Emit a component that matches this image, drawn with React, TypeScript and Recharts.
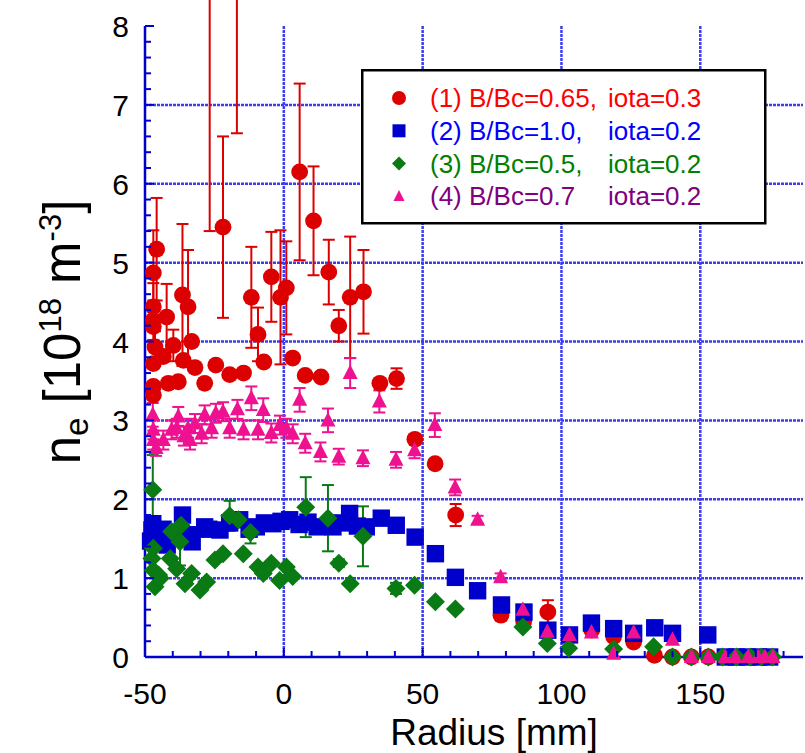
import React from 'react'
import {
  ScatterChart,
  Scatter,
  XAxis,
  YAxis,
  CartesianGrid,
  ErrorBar,
  Legend,
} from 'recharts'

// [radius (mm), n_e (1e18 m^-3), error]
type Point = [number, number, number]

// (1) B/Bc=0.65, iota=0.3
const CASE1: Point[] = [
  [-47.0, 4.87, 0.54], [-45.8, 5.17, 0.65], [-47.0, 4.44, 0.3], [-47.0, 4.27, 0.25],
  [-46.4, 3.93, 0.2], [-47.0, 4.19, 0], [-47.0, 3.72, 0], [-47.0, 3.43, 0], [-47.0, 3.32, 0],
  [-43.4, 3.81, 0], [-42.2, 4.31, 0.42], [-41.6, 3.47, 0], [-39.8, 3.95, 0.2],
  [-38.0, 3.49, 0], [-36.5, 4.59, 0.9], [-36.2, 3.76, 0], [-34.5, 4.44, 0.72],
  [-33.2, 4.0, 0], [-32.0, 3.67, 0], [-28.5, 3.47, 0], [-24.5, 3.7, 0],
  [-21.9, 5.45, 1.15], [-19.5, 3.58, 0], [-14.5, 3.6, 0], [-11.7, 4.56, 0.64],
  [-9.3, 4.09, 0.34], [-7.2, 3.74, 0], [-4.5, 4.82, 0.57], [-1.2, 4.56, 0.85],
  [0.9, 4.68, 0.59], [3.2, 3.79, 0], [5.7, 6.15, 1.12], [7.7, 3.57, 0],
  [10.7, 5.53, 0.69], [13.4, 3.55, 0], [16.2, 4.88, 0.41], [19.8, 4.2, 0.2],
  [23.9, 4.56, 0.77], [28.7, 4.63, 0.53], [34.6, 3.47, 0], [40.6, 3.53, 0.13],
  [47.2, 2.76, 0], [54.5, 2.45, 0], [61.9, 1.8, 0.14], [78.2, 0.53, 0],
  [86.4, 0.45, 0], [95.1, 0.57, 0.15], [110.9, 0.34, 0], [118.8, 0.26, 0],
  [126.0, 0.19, 0], [133.5, 0.02, 0], [140.0, 0, 0], [146.8, 0, 0], [152.9, 0, 0],
]

// two shots above the frame: only the lower part of their error bars shows
const CASE1_HIGH: Point[] = [
  [-26.7, 9.0, 3.6],
  [-16.9, 9.5, 2.86],
]

// (2) B/Bc=1.0, iota=0.2
const CASE2: Point[] = [
  [-47.5, 1.61, 0], [-48.0, 1.47, 0], [-47.2, 1.69, 0], [-45.0, 1.55, 0], [-43.5, 1.62, 0],
  [-42.0, 1.42, 0], [-39.0, 1.52, 0], [-36.5, 1.8, 0], [-34.5, 1.55, 0], [-33.0, 1.46, 0],
  [-28.5, 1.65, 0], [-27.0, 1.62, 0], [-23.0, 1.61, 0], [-19.5, 1.7, 0], [-15.9, 1.74, 0],
  [-12.5, 1.62, 0], [-9.9, 1.65, 0], [-7.0, 1.7, 0], [-3.9, 1.69, 0], [-1.0, 1.72, 0],
  [2.1, 1.74, 0], [5.5, 1.68, 0], [8.7, 1.71, 0], [12.0, 1.65, 0], [17.7, 1.65, 0],
  [20.5, 1.7, 0], [23.7, 1.82, 0], [26.5, 1.66, 0], [29.7, 1.65, 0], [35.1, 1.76, 0],
  [40.5, 1.67, 0], [47.3, 1.52, 0], [54.6, 1.31, 0], [61.8, 1.01, 0], [69.8, 0.84, 0],
  [78.4, 0.66, 0], [86.5, 0.57, 0], [95.1, 0.34, 0], [102.9, 0.28, 0], [110.8, 0.43, 0],
  [118.8, 0.36, 0], [126.0, 0.3, 0], [133.6, 0.37, 0], [140.0, 0.3, 0], [152.7, 0.28, 0],
  [159.0, 0, 0], [163.0, 0, 0], [167.0, 0, 0], [171.0, 0, 0], [175.0, 0, 0],
]

// (3) B/Bc=0.5, iota=0.2
const CASE3: Point[] = [
  [-47.2, 2.12, 0.44], [-47.0, 1.38, 0], [-47.5, 1.25, 0], [-47.0, 1.1, 0], [-46.4, 0.89, 0],
  [-45.1, 1.04, 0], [-44.5, 1.0, 0], [-40.9, 1.25, 0], [-40.4, 1.59, 0], [-38.6, 1.12, 0],
  [-37.0, 1.67, 0], [-37.4, 1.46, 0.3], [-33.2, 1.06, 0], [-35.6, 0.93, 0], [-30.2, 0.85, 0],
  [-27.8, 0.95, 0], [-24.8, 1.23, 0], [-21.9, 1.31, 0], [-19.5, 1.79, 0.19], [-16.4, 1.74, 0],
  [-14.6, 1.31, 0], [-12.0, 1.58, 0.14], [-9.3, 1.14, 0], [-7.4, 1.06, 0], [-4.5, 1.19, 0],
  [-1.5, 0.97, 0], [0.9, 1.14, 0], [3.2, 1.02, 0], [7.9, 1.9, 0.38], [15.9, 1.76, 0.42],
  [19.8, 1.19, 0.05], [23.9, 0.93, 0], [28.5, 1.53, 0.38], [40.4, 0.87, 0.07], [47.1, 0.91, 0],
  [54.6, 0.7, 0], [61.8, 0.61, 0.03], [86.1, 0.38, 0], [94.9, 0.17, 0], [102.6, 0.11, 0],
  [118.8, 0.1, 0], [133.2, 0.13, 0], [140.0, 0, 0], [146.8, 0, 0], [152.9, 0, 0],
  [158.0, 0, 0], [163.0, 0, 0], [168.0, 0, 0], [172.0, 0, 0], [176.0, 0, 0],
]

// (4) B/Bc=0.7, iota=0.2
const CASE4: Point[] = [
  [-47.2, 3.07, 0.15], [-47.0, 2.88, 0.12], [-47.0, 2.75, 0.12], [-46.0, 2.65, 0.1],
  [-43.4, 2.75, 0.12], [-40.4, 2.88, 0.12], [-38.0, 3.05, 0.12], [-38.6, 2.9, 0.12],
  [-36.0, 2.8, 0.12], [-34.5, 2.9, 0.12], [-33.8, 2.75, 0.12], [-32.0, 2.96, 0.12],
  [-29.6, 2.83, 0.12], [-28.5, 3.07, 0.12], [-26.0, 2.9, 0.12], [-24.5, 3.09, 0.12],
  [-21.9, 3.11, 0.12], [-19.5, 2.9, 0.12], [-16.7, 3.14, 0.12], [-14.5, 2.88, 0.12],
  [-11.7, 3.28, 0.15], [-9.3, 2.88, 0.12], [-7.4, 3.13, 0.15], [-4.5, 2.84, 0.12],
  [-1.4, 2.94, 0.12], [0.9, 2.9, 0.12], [3.2, 2.83, 0.12], [5.7, 3.26, 0.15],
  [7.7, 2.71, 0.12], [13.2, 2.6, 0.12], [15.9, 3.0, 0.15], [19.8, 2.54, 0.1],
  [23.9, 3.6, 0.19], [28.5, 2.52, 0.1], [34.4, 3.24, 0.14], [40.4, 2.5, 0.1],
  [47.1, 2.62, 0.1], [54.4, 2.94, 0.15], [61.7, 2.15, 0.1], [69.8, 1.74, 0.05],
  [78.1, 1.01, 0.05], [86.1, 0.6, 0.05], [94.9, 0.32, 0], [102.9, 0.28, 0],
  [110.8, 0.31, 0], [118.8, 0.04, 0], [126.0, 0.31, 0], [140.0, 0.22, 0],
  [146.8, 0, 0], [152.9, 0, 0], [159.0, 0, 0], [162.6, 0, 0], [167.2, 0, 0],
  [170.8, 0, 0], [173.3, 0, 0], [176.2, 0, 0],
]

const X_DOMAIN = [-50, 187]
const Y_DOMAIN = [0, 8]
const X_TICKS = [-50, -40, -30, -20, -10, 0, 10, 20, 30, 40, 50, 60, 70, 80, 90, 100, 110, 120, 130, 140, 150, 160, 170, 180]
const X_LABELS = [-50, 0, 50, 100, 150]
const Y_TICKS = Array.from({ length: 41 }, (_, i) => i / 5)
const X_GRID = [0, 50, 100, 150]
const Y_GRID = [1, 2, 3, 4, 5, 6, 7]

const LEGEND_ROWS = [
  { head: '(1) B/Bc=0.65,', tail: 'iota=0.3', color: '#ff0000', marker: 'circle' },
  { head: '(2) B/Bc=1.0,', tail: 'iota=0.2', color: '#0000ff', marker: 'square' },
  { head: '(3) B/Bc=0.5,', tail: 'iota=0.2', color: '#008000', marker: 'diamond' },
  { head: '(4) B/Bc=0.7', tail: 'iota=0.2', color: '#800080', marker: 'triangle' },
]

const FONT = '"Liberation Sans", Arial, Helvetica, sans-serif'
const AXIS = '#0000cc'
const GRID = '#3c3cf0'
const RED = '#dd0000'
const BLUE = '#0000cc'
const GREEN = '#0a7a14'
const PINK = '#ee1190'

const toRows = (pts: Point[]) => pts.map(([x, y, err]) => ({ x, y, err }))

const isMajor = (v: number) => Math.abs(v - Math.round(v)) < 1e-6

function BottomTick({ x, y, payload }: any) {
  const v = payload.value
  const major = X_LABELS.includes(v)
  return (
    <g>
      <line x1={x} x2={x} y1={y} y2={y - (major ? 9 : 6)} stroke={AXIS} strokeWidth={2} />
      {major && (
        <text x={x} y={y + 47} textAnchor="middle" fontSize={30} fontFamily={FONT} fill="#000">
          {v}
        </text>
      )}
    </g>
  )
}

function TopTick({ x, y, payload }: any) {
  const major = X_LABELS.includes(payload.value)
  return <line x1={x} x2={x} y1={y} y2={y + (major ? 9 : 6)} stroke={AXIS} strokeWidth={2} />
}

function LeftTick({ x, y, payload }: any) {
  const v = payload.value
  const major = isMajor(v)
  return (
    <g>
      <line x1={x} x2={x + (major ? 9 : 6)} y1={y} y2={y} stroke={AXIS} strokeWidth={2} />
      {major && (
        <text x={x - 16} y={y + 11} textAnchor="end" fontSize={30} fontFamily={FONT} fill="#000">
          {Math.round(v)}
        </text>
      )}
    </g>
  )
}

function RightTick({ x, y, payload }: any) {
  const major = isMajor(payload.value)
  return <line x1={x} x2={x - (major ? 9 : 6)} y1={y} y2={y} stroke={AXIS} strokeWidth={2} />
}

const circleShape = (p: any) => <circle cx={p.cx} cy={p.cy} r={8.4} fill={RED} />
const squareShape = (p: any) => (
  <rect x={p.cx - 8.7} y={p.cy - 8.7} width={17.4} height={17.4} fill={BLUE} />
)
const diamondShape = (p: any) => (
  <polygon
    points={`${p.cx},${p.cy - 9.5} ${p.cx + 9.5},${p.cy} ${p.cx},${p.cy + 9.5} ${p.cx - 9.5},${p.cy}`}
    fill={GREEN}
  />
)
const triangleShape = (p: any) => (
  <polygon
    points={`${p.cx},${p.cy - 8.5} ${p.cx + 7.5},${p.cy + 6} ${p.cx - 7.5},${p.cy + 6}`}
    fill={PINK}
  />
)
const noShape = () => <g />

function LegendMarker({ kind, cx, cy }: { kind: string; cx: number; cy: number }) {
  if (kind === 'circle') return <circle cx={cx} cy={cy} r={7} fill={RED} />
  if (kind === 'square') return <rect x={cx - 6.5} y={cy - 6.5} width={13} height={13} fill={BLUE} />
  if (kind === 'diamond')
    return <polygon points={`${cx},${cy - 7} ${cx + 7},${cy} ${cx},${cy + 7} ${cx - 7},${cy}`} fill={GREEN} />
  return <polygon points={`${cx},${cy - 6.5} ${cx + 5.5},${cy + 4.5} ${cx - 5.5},${cy + 4.5}`} fill={PINK} />
}

function LegendBox() {
  return (
    <svg width={406} height={156} style={{ display: 'block' }}>
      <rect x={1.25} y={1.25} width={403} height={153} fill="#fff" stroke="#000" strokeWidth={2.5} />
      {LEGEND_ROWS.map((row, i) => {
        const cy = 29 + i * 32.8
        return (
          <g key={row.head}>
            <LegendMarker kind={row.marker} cx={38} cy={cy} />
            <text x={69} y={cy + 9} fontSize={26} fontFamily={FONT} fill={row.color}>
              {row.head}
            </text>
            <text x={247} y={cy + 9} fontSize={26} fontFamily={FONT} fill={row.color}>
              {row.tail}
            </text>
          </g>
        )
      })}
    </svg>
  )
}

function XTitle() {
  return (
    <text x={494} y={745} textAnchor="middle" fontSize={37} fontFamily={FONT} fill="#000">
      Radius [mm]
    </text>
  )
}

function YTitle() {
  return (
    <text
      transform="rotate(-90)"
      x={-332}
      y={80}
      textAnchor="middle"
      fontSize={51}
      fontFamily={FONT}
      fill="#000"
    >
      n
      <tspan dy={8} fontSize={33}>e</tspan>
      <tspan dy={-8}>{' [10'}</tspan>
      <tspan dy={-19} fontSize={31}>18</tspan>
      <tspan dy={19}>{' m'}</tspan>
      <tspan dy={-19} fontSize={31}>-3</tspan>
      <tspan dy={19}>]</tspan>
    </text>
  )
}

export default function App() {
  return (
    <div style={{ position: 'absolute', left: 0, top: 0, width: 805, height: 753, background: '#fff' }}>
      <ScatterChart width={805} height={753} margin={{ top: 26, right: 2, bottom: 0, left: 0 }}>
        <CartesianGrid
          horizontalValues={Y_GRID}
          verticalValues={X_GRID}
          stroke={GRID}
          strokeWidth={2.5}
          strokeDasharray="3 1"
        />
        <XAxis
          type="number"
          dataKey="x"
          domain={X_DOMAIN}
          ticks={X_TICKS}
          interval={0}
          height={96}
          tickSize={0}
          tickMargin={0}
          tickLine={false}
          axisLine={{ stroke: AXIS, strokeWidth: 2.5 }}
          tick={(p: any) => <BottomTick {...p} />}
          label={<XTitle />}
        />
        <XAxis
          xAxisId="top"
          orientation="top"
          type="number"
          domain={X_DOMAIN}
          allowDataOverflow
          ticks={X_TICKS}
          interval={0}
          height={0}
          tickSize={0}
          tickMargin={0}
          tickLine={false}
          axisLine={{ stroke: AXIS, strokeWidth: 2.5 }}
          tick={(p: any) => <TopTick {...p} />}
        />
        <YAxis
          type="number"
          dataKey="y"
          domain={Y_DOMAIN}
          ticks={Y_TICKS}
          interval={0}
          width={145}
          tickSize={0}
          tickMargin={0}
          tickLine={false}
          axisLine={{ stroke: AXIS, strokeWidth: 2.5 }}
          tick={(p: any) => <LeftTick {...p} />}
          label={<YTitle />}
        />
        <YAxis
          yAxisId="right"
          orientation="right"
          type="number"
          domain={Y_DOMAIN}
          allowDataOverflow
          ticks={Y_TICKS}
          interval={0}
          width={0}
          tickSize={0}
          tickMargin={0}
          tickLine={false}
          axisLine={{ stroke: AXIS, strokeWidth: 2.5 }}
          tick={(p: any) => <RightTick {...p} />}
        />
        <YAxis yAxisId="clip" type="number" dataKey="y" domain={Y_DOMAIN} allowDataOverflow hide />

        <Scatter data={toRows(CASE1_HIGH)} yAxisId="clip" shape={noShape} isAnimationActive={false}>
          <ErrorBar dataKey="err" direction="y" width={6} stroke={RED} strokeWidth={2} isAnimationActive={false} />
        </Scatter>
        <Scatter data={toRows(CASE1)} shape={circleShape} isAnimationActive={false}>
          <ErrorBar dataKey="err" direction="y" width={6} stroke={RED} strokeWidth={2} isAnimationActive={false} />
        </Scatter>
        <Scatter data={toRows(CASE2)} shape={squareShape} isAnimationActive={false} />
        <Scatter data={toRows(CASE3)} shape={diamondShape} isAnimationActive={false}>
          <ErrorBar dataKey="err" direction="y" width={6} stroke={GREEN} strokeWidth={2} isAnimationActive={false} />
        </Scatter>
        <Scatter data={toRows(CASE4)} shape={triangleShape} isAnimationActive={false}>
          <ErrorBar dataKey="err" direction="y" width={6} stroke={PINK} strokeWidth={2} isAnimationActive={false} />
        </Scatter>

        <Legend
          layout="vertical"
          align="center"
          verticalAlign="middle"
          wrapperStyle={{ left: 361, top: 69, width: 406, height: 156 }}
          content={() => <LegendBox />}
        />
      </ScatterChart>
    </div>
  )
}
